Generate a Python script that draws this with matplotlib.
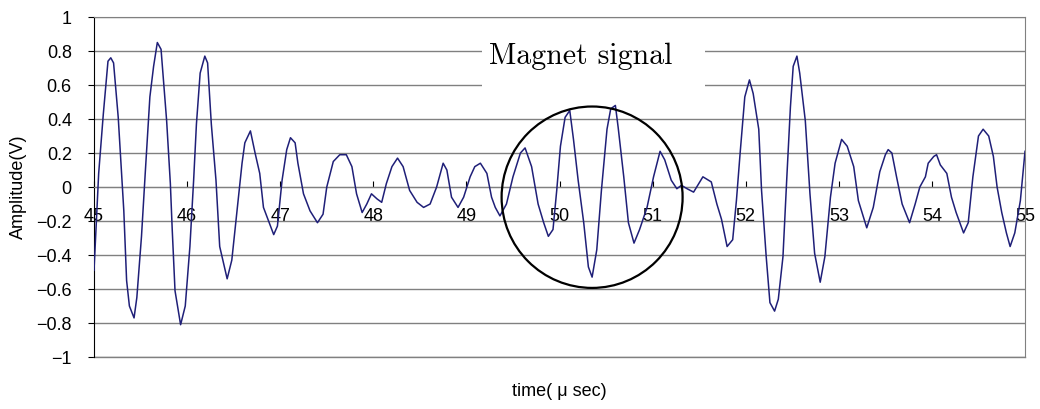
import numpy as np
import matplotlib.pyplot as plt
from matplotlib.patches import Ellipse, Rectangle

# waveform (time in usec, amplitude in V)
time_us = [45.00, 45.05, 45.10, 45.15, 45.18, 45.21, 45.26, 45.30, 45.32, 45.35,
           45.38, 45.43, 45.46, 45.51, 45.55, 45.60, 45.64, 45.68, 45.72, 45.78,
           45.82, 45.84, 45.87, 45.93, 45.98, 46.03, 46.07, 46.10, 46.14, 46.19,
           46.22, 46.26, 46.31, 46.35, 46.43, 46.48, 46.53, 46.59, 46.62, 46.68,
           46.73, 46.78, 46.82, 46.93, 46.97, 47.02, 47.07, 47.11, 47.16, 47.19,
           47.25, 47.32, 47.40, 47.46, 47.50, 47.57, 47.64, 47.71, 47.77, 47.82,
           47.88, 47.93, 47.98, 48.04, 48.09, 48.14, 48.20, 48.26, 48.32, 48.39,
           48.47, 48.54, 48.61, 48.68, 48.75, 48.79, 48.84, 48.91, 48.97, 49.04,
           49.09, 49.15, 49.22, 49.27, 49.31, 49.36, 49.43, 49.50, 49.58, 49.63,
           49.70, 49.77, 49.83, 49.88, 49.93, 49.97, 50.01, 50.06, 50.11, 50.15,
           50.20, 50.26, 50.31, 50.35, 50.40, 50.45, 50.51, 50.55, 50.60, 50.63,
           50.69, 50.74, 50.80, 50.86, 50.94, 51.01, 51.08, 51.13, 51.20, 51.26,
           51.31, 51.37, 51.44, 51.54, 51.63, 51.69, 51.74, 51.80, 51.86, 51.90,
           51.94, 51.99, 52.04, 52.08, 52.14, 52.17, 52.22, 52.26, 52.31, 52.35,
           52.40, 52.44, 52.48, 52.51, 52.55, 52.58, 52.64, 52.69, 52.74, 52.80,
           52.85, 52.91, 52.96, 53.03, 53.09, 53.16, 53.21, 53.30, 53.37, 53.44,
           53.50, 53.53, 53.57, 53.62, 53.68, 53.76, 53.82, 53.87, 53.93, 53.96,
           54.02, 54.05, 54.09, 54.16, 54.21, 54.26, 54.34, 54.39, 54.44, 54.50,
           54.55, 54.61, 54.66, 54.70, 54.75, 54.80, 54.84, 54.89, 54.95, 55.00]
amplitude = [-0.49, 0.08, 0.43, 0.74, 0.76, 0.73, 0.41, 0.04, -0.14, -0.55,
             -0.70, -0.77, -0.65, -0.29, 0.08, 0.53, 0.71, 0.85, 0.81, 0.39,
             0.02, -0.25, -0.61, -0.81, -0.70, -0.35, 0.04, 0.37, 0.67, 0.77,
             0.73, 0.37, 0.04, -0.35, -0.54, -0.43, -0.17, 0.14, 0.26, 0.33,
             0.20, 0.08, -0.12, -0.28, -0.23, 0.04, 0.22, 0.29, 0.26, 0.14,
             -0.04, -0.14, -0.21, -0.16, 0.00, 0.15, 0.19, 0.19, 0.12, -0.04,
             -0.15, -0.10, -0.04, -0.07, -0.09, 0.02, 0.12, 0.17, 0.12, -0.02,
             -0.09, -0.12, -0.10, 0.00, 0.14, 0.10, -0.06, -0.12, -0.06, 0.06,
             0.12, 0.14, 0.08, -0.06, -0.12, -0.17, -0.10, 0.06, 0.20, 0.23,
             0.12, -0.10, -0.21, -0.29, -0.25, -0.02, 0.24, 0.41, 0.45, 0.28,
             0.04, -0.21, -0.47, -0.53, -0.37, -0.02, 0.34, 0.46, 0.48, 0.35,
             0.06, -0.21, -0.33, -0.25, -0.12, 0.06, 0.21, 0.16, 0.04, -0.01,
             0.01, -0.01, -0.03, 0.06, 0.03, -0.10, -0.19, -0.35, -0.31, -0.08,
             0.20, 0.53, 0.63, 0.55, 0.34, -0.02, -0.41, -0.68, -0.73, -0.66,
             -0.41, 0.04, 0.47, 0.71, 0.77, 0.67, 0.39, -0.04, -0.39, -0.56,
             -0.41, -0.06, 0.14, 0.28, 0.24, 0.12, -0.08, -0.24, -0.12, 0.09,
             0.19, 0.22, 0.20, 0.06, -0.10, -0.21, -0.10, 0.00, 0.06, 0.14,
             0.18, 0.19, 0.13, 0.08, -0.06, -0.15, -0.27, -0.21, 0.06, 0.30,
             0.34, 0.30, 0.18, 0.00, -0.15, -0.27, -0.35, -0.27, -0.08, 0.21]

x_ticks = np.arange(45, 56, 1)
y_ticks = np.round(np.arange(-1, 1.01, 0.2), 1)

plt.rcParams['font.family'] = ['Liberation Sans', 'DejaVu Sans']

fig = plt.figure(figsize=(10.4, 4.09), dpi=100)
ax = fig.add_axes([0.0904, 0.1271, 0.8952, 0.8313])

ax.plot(time_us, amplitude, color='#1f1f78', lw=1.1, zorder=3)

ax.set_xlim(45, 55)
ax.set_ylim(-1, 1)
ax.set_xticks(x_ticks)
ax.set_yticks(y_ticks)
ax.set_yticklabels(['−1' if v == -1 else '1' if v == 1 else '0' if v == 0
                    else f'{v:.1f}'.replace('-', '−') for v in y_ticks])
ax.grid(axis='y', color='#808080', lw=1)
ax.axhline(-1, color='#808080', lw=1, clip_on=False, zorder=1)
ax.set_axisbelow(True)

# x axis crosses at 0
ax.spines['bottom'].set_position(('data', 0))
ax.spines['bottom'].set_color('#808080')
ax.spines['top'].set_color('#808080')
ax.spines['right'].set_color('#808080')
ax.spines['left'].set_color('black')
ax.tick_params(axis='x', direction='in', length=4, pad=15, labelsize=13, color='black')
ax.tick_params(axis='y', direction='out', length=4, pad=12, labelsize=13)

ax.set_xlabel('time( μ sec)', fontsize=13)
ax.xaxis.set_label_coords(0.5, -0.075)
ax.set_ylabel('Amplitude(V)', fontsize=13)
ax.yaxis.set_label_coords(-0.072, 0.5)

# white label box over the gridlines
ax.add_patch(Rectangle((0.4168, 0.7706), 0.2395, 0.1674, transform=ax.transAxes,
                       facecolor='white', edgecolor='none', zorder=2))
ax.text(50.23, 0.77, 'Magnet signal', fontfamily='cmr10', fontsize=21.5,
        ha='center', va='center', zorder=4)

ax.add_patch(Ellipse((50.35, -0.06), 1.944, 1.067, fill=False,
                     edgecolor='black', lw=1.6, zorder=4))

fig.savefig('out.png', dpi=100)
